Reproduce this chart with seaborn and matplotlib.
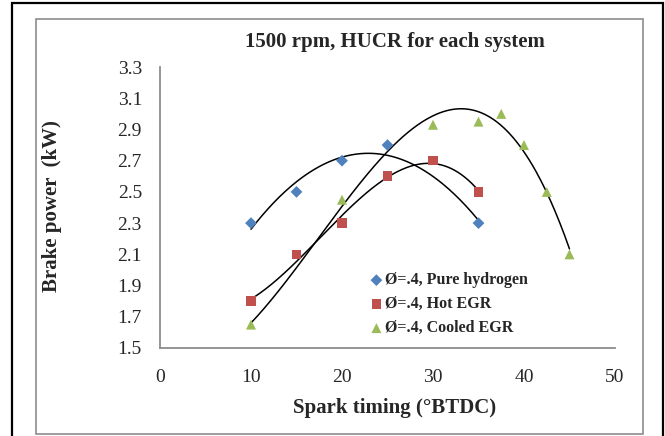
import numpy as np
import pandas as pd
import matplotlib
matplotlib.use("Agg")
import matplotlib.pyplot as plt
from matplotlib.patches import Rectangle
import seaborn as sns

# Data
pure_x = [10, 15, 20, 25, 35]
pure_y = [2.30, 2.50, 2.70, 2.80, 2.30]
hot_x = [10, 15, 20, 25, 30, 35]
hot_y = [1.80, 2.10, 2.30, 2.60, 2.70, 2.50]
cool_x = [10, 20, 30, 35, 37.5, 40, 42.5, 45]
cool_y = [1.65, 2.45, 2.93, 2.95, 3.00, 2.80, 2.50, 2.10]
labels = ["Ø=.4, Pure hydrogen", "Ø=.4, Hot EGR", "Ø=.4, Cooled EGR"]
trend_orders = [2, 3, 3]
colors = ["#4F81BD", "#C0504D", "#9BBB59"]
markers = ["D", "s", "^"]
xticks = [0, 10, 20, 30, 40, 50]
yticks = [1.5, 1.7, 1.9, 2.1, 2.3, 2.5, 2.7, 2.9, 3.1, 3.3]

sns.set_style("white")
plt.rcParams["font.family"] = ["Liberation Serif", "DejaVu Serif"]

fig = plt.figure(figsize=(6.65, 4.36), dpi=100)
W, H = 665, 436
# borders
fig.patches.append(Rectangle((12 / W, -0.05), (663 - 12) / W, (436 - 3) / H + 0.05,
                             transform=fig.transFigure, fill=False, edgecolor="black", lw=1.6))
fig.patches.append(Rectangle((36 / W, 1 - 434 / H), (643 - 36) / W, (434 - 19) / H,
                             transform=fig.transFigure, fill=False, edgecolor="#8c8c8c", lw=1.2))

ax = fig.add_axes([160 / W, 1 - 348 / H, (615 - 160) / W, (348 - 67) / H])

series = [(pure_x, pure_y), (hot_x, hot_y), (cool_x, cool_y)]
sizes = [36, 48, 52]
for (xs, ys), lab, c, m, s in zip(series, labels, colors, markers, sizes):
    df = pd.DataFrame({"x": xs, "y": ys})
    sns.scatterplot(data=df, x="x", y="y", ax=ax, marker=m, color=c, s=s,
                    edgecolor="none", label=lab, zorder=3, clip_on=False)
for (xs, ys), order in zip(series, trend_orders):
    coef = np.polyfit(xs, ys, order)
    xx = np.linspace(min(xs), max(xs), 200)
    tdf = pd.DataFrame({"x": xx, "y": np.polyval(coef, xx)})
    sns.lineplot(data=tdf, x="x", y="y", ax=ax, color="black", lw=1.1, zorder=2)

ax.set_xlim(0, 50)
ax.set_ylim(1.5, 3.3)
ax.set_xticks(xticks)
ax.set_yticks(yticks)
ax.set_xticklabels([str(t) for t in xticks])
ax.set_yticklabels([f"{t:.1f}" for t in yticks])
ax.tick_params(axis="both", length=0, labelsize=14)
ax.tick_params(axis="y", pad=13)
ax.tick_params(axis="x", pad=15)
for sp in ["top", "right"]:
    ax.spines[sp].set_visible(False)
for sp in ["left", "bottom"]:
    ax.spines[sp].set_color("#8c8c8c")
    ax.spines[sp].set_linewidth(1.3)

ax.set_xlabel("Spark timing (°BTDC)", fontsize=15, fontweight="bold")
ax.set_ylabel("Brake power  (kW)", fontsize=15, fontweight="bold")
ax.xaxis.set_label_coords((395 - 160) / 455, -(398 - 348) / 281)
ax.yaxis.set_label_coords((62 - 160) / 455, (348 - 206) / 281)
fig.text(395 / W, 1 - 42 / H, "1500 rpm, HUCR for each system", fontsize=15,
         fontweight="bold", ha="center", va="center")

leg = ax.legend(loc="upper left", bbox_to_anchor=(0.444, 0.292), frameon=False,
                prop={"weight": "bold", "size": 11.5}, handletextpad=0.05,
                handlelength=1.0, labelspacing=0.5, borderaxespad=0)

fig.savefig("out.png", dpi=100)
